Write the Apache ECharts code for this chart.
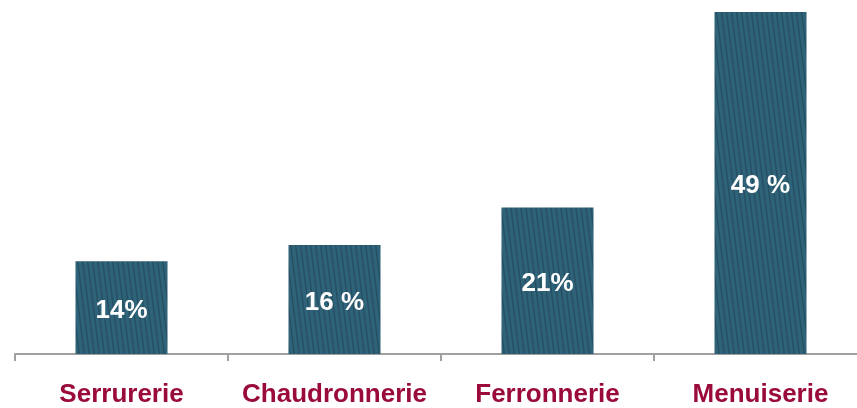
<!DOCTYPE html>
<html>
<head>
<meta charset="utf-8">
<script src="https://cdn.jsdelivr.net/npm/echarts@6/dist/echarts.min.js"></script>
<style>
  html, body { margin: 0; padding: 0; background: #fff; overflow: hidden; }
  #chart { width: 867px; height: 408px; }
</style>
</head>
<body>
<div id="chart"></div>
<script>
const categories = ['Serrurerie', 'Chaudronnerie', 'Ferronnerie', 'Menuiserie'];
const shares = [13.3, 15.6, 21, 49];
const shareLabels = ['14%', '16 %', '21%', '49 %'];

// faint near-vertical hatching like the original fill
function stripePattern() {
    const c = document.createElement('canvas');
    c.width = 10;
    c.height = 40;
    const ctx = c.getContext('2d');
    ctx.fillStyle = '#2f6379';
    ctx.fillRect(0, 0, 10, 40);
    ctx.strokeStyle = '#274f62';
    ctx.lineWidth = 1.4;
    for (let x = -10; x <= 20; x += 5) {
        ctx.beginPath();
        ctx.moveTo(x, 0);
        ctx.lineTo(x + 5, 40);
        ctx.stroke();
    }
    return c;
}

echarts.init(document.querySelector('#chart')).setOption({
    animation: false,
    grid: { left: 15, right: 0, top: 12, bottom: 54 },
    xAxis: {
        type: 'category',
        data: categories,
        axisLine: { lineStyle: { color: '#a0a0a0', width: 2 } },
        axisTick: { show: true, interval: 0, length: 7, lineStyle: { color: '#a0a0a0', width: 2 } },
        axisLabel: {
            interval: 0,
            color: '#9a0a3c',
            fontFamily: 'Liberation Sans',
            fontWeight: 'bold',
            fontSize: 26,
            margin: 28
        }
    },
    yAxis: {
        type: 'value',
        min: 0,
        max: 49,
        show: false
    },
    series: [{
        type: 'bar',
        data: shares,
        barWidth: 92,
        itemStyle: { color: { image: stripePattern(), repeat: 'repeat' } },
        label: {
            show: true,
            position: 'inside',
            offset: [0, 3],
            color: '#fff',
            fontFamily: 'Liberation Sans',
            fontWeight: 'bold',
            fontSize: 26,
            formatter: p => shareLabels[p.dataIndex]
        }
    }]
});
</script>
</body>
</html>
